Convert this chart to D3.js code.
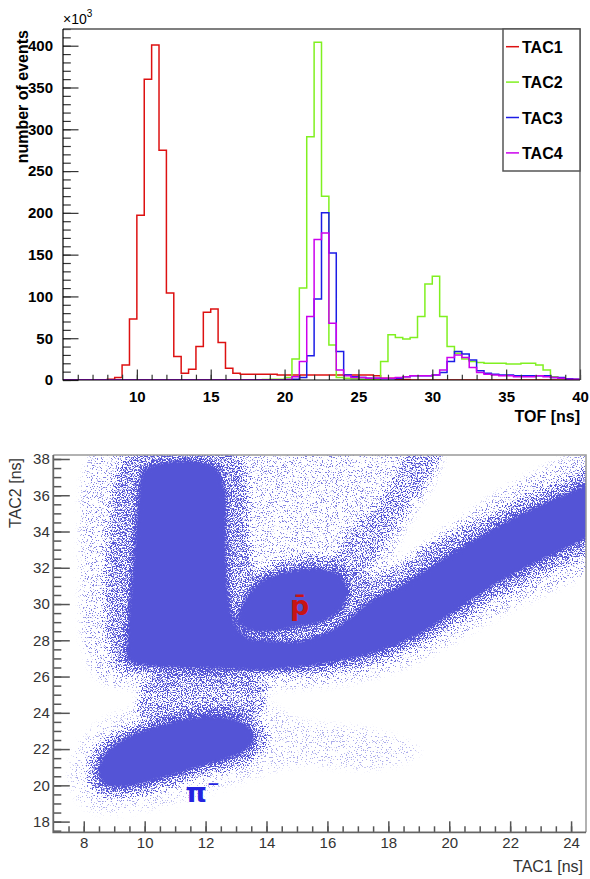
<!DOCTYPE html>
<html>
<head>
<meta charset="utf-8">
<script src="https://cdn.jsdelivr.net/npm/d3@7"></script>
<style>
    body { margin: 0; background: #fff; }
    svg { display: block; }
</style>
</head>
<body>
<svg id="chart" width="590" height="879"></svg>
<script>
// ---- top panel: TOF histograms, 0.5 ns bins from 5 ns, counts in units of 10^3 ----
const tofBinStart = 5;
const tofBinWidth = 0.5;

const tac1Counts = [
    0, 0, 0, 0, 0, 0, 1, 3, 18, 73,
    197, 360, 401, 275, 104, 28, 8, 13, 40, 81,
    85, 45, 14, 8, 7, 7, 7, 7, 7, 6,
    6, 6, 6, 6, 6, 6, 6, 6, 6, 6,
    6, 6, 5, 2, 2, 1, 0.5, 0, 0, 0,
    0, 0, 0, 0, 0, 0, 0, 0, 0, 0,
    0, 0, 0, 0, 0, 0, 0, 0, 0, 0
];
const tac2Counts = [
    0, 0, 0, 0, 0, 0, 0, 0, 0, 0,
    0, 0, 0, 0, 0, 0, 0, 0, 0, 0,
    0, 0, 0, 0, 0, 0, 0, 0.5, 1, 1,
    3, 25, 110, 291, 404, 220, 42, 3, 2, 1.5,
    1, 1, 1, 22, 54, 51, 49, 51, 76, 115,
    124, 76, 40, 32, 25, 22, 21, 20, 20, 20,
    19, 19, 20, 20, 18, 12, 4, 1.5, 1, 0.5
];
const tac3Counts = [
    0, 0, 0, 0, 0, 0, 0, 0, 0, 0,
    0, 0, 0, 0, 0, 0, 0, 0, 0, 0,
    0, 0, 0, 0, 0, 0, 0, 0, 0, 0,
    0.5, 1, 3, 29, 97, 200, 152, 34, 6, 4,
    3, 2, 2, 1.5, 1.5, 2, 4, 5, 5, 5,
    6, 9, 22, 34, 31, 24, 11, 8, 7, 6,
    6, 5, 5, 5, 5, 5, 3, 3, 1.5, 1
];
const tac4Counts = [
    0, 0, 0, 0, 0, 0, 0, 0, 0, 0,
    0, 0, 0, 0, 0, 0, 0, 0, 0, 0,
    0, 0, 0, 0, 0, 0, 0, 0, 0, 0,
    0.5, 4, 22, 76, 168, 176, 68, 12, 5, 3,
    3, 2, 2, 2, 2, 3, 4, 5, 5, 5,
    6, 12, 27, 30, 27, 15, 9, 7, 6, 5,
    5, 4, 4, 4, 5, 4, 3, 2, 1, 1
];

const seriesNames = ['TAC1', 'TAC2', 'TAC3', 'TAC4'];
const seriesColors = ['#dd1111', '#80f020', '#1c1ce6', '#cc00ee'];
const tofDomain = [5, 40];
const countDomain = [0, 420];
const tofTicks = [10, 15, 20, 25, 30, 35, 40];
const countTicks = [0, 50, 100, 150, 200, 250, 300, 350, 400];

// ---- bottom panel: TAC1 vs TAC2 density, outlines in ns, level = relative density ----
const tac1Domain = [7.0, 24.49];
const tac2Domain = [17.41, 38.22];
const tac1Ticks = [8, 10, 12, 14, 16, 18, 20, 22, 24];
const tac2Ticks = [18, 20, 22, 24, 26, 28, 30, 32, 34, 36, 38];

const vBandCore = [[9.94, 37.4], [10.5, 37.83], [11.8, 37.9], [12.4, 37.5], [12.67, 36.3], [12.7, 33.5],
    [12.8, 30.2], [13.05, 28.7], [13.5, 28.0], [13.5, 26.6], [11.8, 26.42], [10.2, 26.53], [9.45, 26.86],
    [9.42, 28.6], [9.6, 32.4], [9.75, 35.7]];
const pbarCore = [[13.03, 29.1], [13.3, 30.4], [13.8, 31.3], [14.55, 31.8], [15.65, 32.0], [16.4, 31.7],
    [16.7, 30.8], [16.5, 29.7], [15.9, 29.0], [15.1, 28.7], [14.0, 28.4], [13.3, 28.6]];
const diagonalCore = [[13.13, 27.91], [15.09, 28.02], [16.41, 28.9], [17.39, 30.22], [18.38, 31.05],
    [19.92, 32.7], [22.08, 34.8], [24.48, 36.62], [24.94, 36.95], [24.94, 33.92], [24.48, 33.53],
    [21.66, 31.16], [19.03, 28.29], [17.72, 27.35], [16.41, 26.8], [15.09, 26.47], [13.13, 26.47]];
const pionCore = [[8.44, 20.85], [8.7, 21.84], [9.35, 22.67], [10.5, 23.38], [11.81, 23.82], [12.96, 23.71],
    [13.52, 23.16], [13.62, 22.39], [13.13, 21.67], [11.81, 20.96], [10.5, 20.29], [9.35, 19.85], [8.63, 20.02]];
const upperHalo = [[8.86, 34.63], [9.12, 37.39], [9.68, 38.39], [12.8, 38.39], [13.29, 37.39], [13.39, 33.53],
    [13.62, 31.88], [14.6, 32.43], [16.08, 32.54], [16.9, 31.77], [17.72, 31.6], [19.69, 33.53], [21.99, 35.46],
    [24.48, 37.39], [24.94, 37.67], [24.94, 32.98], [24.48, 32.7], [21.66, 30.39], [19.03, 27.74], [17.72, 26.8],
    [16.08, 26.2], [13.45, 26.09], [10.17, 26.09], [9.19, 26.36], [8.8, 28.02], [8.73, 31.33]];
const upperSpray = [[7.88, 32.43], [8.04, 37.39], [8.37, 38.39], [19.69, 38.39], [19.69, 37.39], [18.38, 33.53],
    [18.21, 32.43], [20.01, 34.36], [22.31, 36.84], [24.48, 38.5], [24.94, 38.5], [24.94, 31.88], [24.48, 31.6],
    [21.66, 29.39], [19.03, 26.91], [17.72, 26.09], [16.08, 25.53], [13.45, 25.26], [10.17, 25.26],
    [8.53, 25.81], [8.04, 27.46]];
const steepStreak = [[16.08, 31.88], [17.06, 31.6], [18.38, 34.63], [19.69, 38.22], [19.69, 38.6],
    [18.87, 38.6], [17.72, 35.74], [16.41, 33.26]];
const gapBridge = [[9.85, 25.26], [10.5, 26.25], [12.8, 26.25], [13.95, 25.53], [13.78, 23.91], [12.47, 23.74],
    [10.83, 23.52], [9.85, 23.88]];
const pionHalo = [[8.14, 20.74], [8.37, 22.06], [9.19, 23.05], [10.5, 23.82], [11.81, 24.27], [13.13, 24.15],
    [13.85, 23.49], [14.04, 22.39], [13.45, 21.29], [11.81, 20.46], [10.5, 19.74], [9.35, 19.36], [8.37, 19.58]];
const pionSpray = [[7.55, 20.19], [7.88, 22.39], [8.86, 23.77], [10.5, 24.59], [13.78, 24.7], [15.09, 23.6],
    [17.72, 22.94], [19.03, 21.84], [17.72, 20.96], [15.09, 21.12], [13.78, 20.57], [11.81, 19.47],
    [9.85, 18.64], [8.21, 18.64]];

const scatterLayers = [
    {outline: upperSpray, level: 0.19},
    {outline: pionSpray, level: 0.12},
    {outline: upperHalo, level: 0.45},
    {outline: steepStreak, level: 0.35},
    {outline: gapBridge, level: 0.42},
    {outline: pionHalo, level: 0.45},
    {outline: vBandCore, level: 1},
    {outline: pbarCore, level: 1},
    {outline: diagonalCore, level: 1},
    {outline: pionCore, level: 1}
];
const coreOutlines = [vBandCore, pbarCore, diagonalCore, pionCore];
const particleLabels = [
    {text: 'p\u0304', tac1: 15.09, tac2: 29.4, color: '#c81414'},
    {text: '\u03c0', sup: '\u2212', tac1: 11.9, tac2: 19.08, color: '#2424e0'}
];

class TofFigure {
    constructor(svgNode) {
        this.svg = d3.select(svgNode);
        this.magicConstants = {
            HIST_BOX: {left: 63, top: 29, right: 580, bottom: 380},
            SCATTER_BOX: {left: 53.3, top: 455, right: 586, bottom: 832.3},
            HIST_FONT: '"Liberation Sans", Arial, sans-serif',
            SCATTER_FONT: '"Liberation Sans", Arial, sans-serif',
            SCATTER_COLOR: '#5454d6'
        };
    }

    _styleAxis(g, color, width) {
        g.select('.domain').remove();
        g.selectAll('.tick line').attr('stroke', color).attr('stroke-width', width);
    }

    _drawHistogram() {
        const box = this.magicConstants.HIST_BOX;
        const font = this.magicConstants.HIST_FONT;
        const x = d3.scaleLinear().domain(tofDomain).range([box.left, box.right]);
        const y = d3.scaleLinear().domain(countDomain).range([box.bottom, box.top]);
        const g = this.svg.append('g');

        g.append('clipPath').attr('id', 'histClip')
            .append('rect')
            .attr('x', box.left).attr('y', box.top)
            .attr('width', box.right - box.left).attr('height', box.bottom - box.top);

        const line = d3.line()
            .x(d => x(d[0]))
            .y(d => y(d[1]))
            .curve(d3.curveStepAfter);
        const allCounts = [tac1Counts, tac2Counts, tac3Counts, tac4Counts];

        allCounts.forEach((counts, i) => {
            const pts = counts.map((v, k) => [tofBinStart + k * tofBinWidth, v]);
            pts.push([tofBinStart + counts.length * tofBinWidth, counts[counts.length - 1]]);
            g.append('path')
                .attr('clip-path', 'url(#histClip)')
                .attr('d', line(pts))
                .attr('fill', 'none')
                .attr('stroke', seriesColors[i])
                .attr('stroke-width', 1.5);
        });

        // minor + major ticks, pointing inside the frame
        const yMinor = g.append('g').attr('transform', `translate(${box.left},0)`)
            .call(d3.axisLeft(y).tickValues(d3.range(0, 421, 10)).tickSize(-7.8).tickFormat(''));
        this._styleAxis(yMinor, '#333', 1.2);
        const yMajor = g.append('g').attr('transform', `translate(${box.left},0)`)
            .call(d3.axisLeft(y).tickValues(countTicks).tickSize(-15.5).tickPadding(10));
        this._styleAxis(yMajor, '#333', 1.2);

        const xMinor = g.append('g').attr('transform', `translate(0,${box.bottom})`)
            .call(d3.axisBottom(x).tickValues(d3.range(6, 41, 1)).tickSize(-5.3).tickFormat(''));
        this._styleAxis(xMinor, '#333', 1.2);
        const xMajor = g.append('g').attr('transform', `translate(0,${box.bottom})`)
            .call(d3.axisBottom(x).tickValues(tofTicks).tickSize(-10.5).tickPadding(11));
        this._styleAxis(xMajor, '#333', 1.2);

        g.selectAll('.tick text')
            .attr('font-family', font).attr('font-weight', 'bold')
            .attr('font-size', 15).attr('fill', '#000');

        // frame
        g.append('path')
            .attr('d', `M${box.left},${box.top}H${box.right}V${box.bottom}`)
            .attr('fill', 'none').attr('stroke', '#555').attr('stroke-width', 1.3);
        g.append('path')
            .attr('d', `M${box.left},${box.top}V${box.bottom}H${box.right}`)
            .attr('fill', 'none').attr('stroke', '#000').attr('stroke-width', 1.2);

        // titles
        g.append('text')
            .attr('transform', `translate(28,${box.top + 1}) rotate(-90)`)
            .attr('text-anchor', 'end')
            .attr('font-family', font).attr('font-weight', 'bold').attr('font-size', 16)
            .text('number of events');
        g.append('text')
            .attr('x', box.right).attr('y', 422)
            .attr('text-anchor', 'end')
            .attr('font-family', font).attr('font-weight', 'bold').attr('font-size', 16)
            .text('TOF [ns]');
        const exp = g.append('text')
            .attr('x', box.left).attr('y', 24)
            .attr('font-family', font).attr('font-size', 14)
            .text('\u00d710');
        exp.append('tspan').attr('dy', -7).attr('font-size', 10).text('3');

        // legend
        const lg = g.append('g');
        lg.append('rect')
            .attr('x', 503).attr('y', box.top)
            .attr('width', box.right - 503).attr('height', 142)
            .attr('fill', '#fff').attr('stroke', '#555').attr('stroke-width', 1.5);
        seriesNames.forEach((name, i) => {
            const cy = 46.7 + i * 35.4;
            lg.append('line')
                .attr('x1', 506).attr('x2', 519).attr('y1', cy).attr('y2', cy)
                .attr('stroke', seriesColors[i]).attr('stroke-width', 1.5);
            lg.append('text')
                .attr('x', 522).attr('y', cy + 6)
                .attr('font-family', font).attr('font-weight', 'bold').attr('font-size', 16)
                .text(name);
        });
    }

    _addScatterFilters(box) {
        const defs = this.svg.append('defs');
        // dithered spray: blurred density thresholded against a fine noise grain
        const f = defs.append('filter').attr('id', 'speckle')
            .attr('filterUnits', 'userSpaceOnUse')
            .attr('x', box.left).attr('y', box.top)
            .attr('width', box.right - box.left).attr('height', box.bottom - box.top)
            .attr('color-interpolation-filters', 'sRGB');
        f.append('feGaussianBlur').attr('in', 'SourceAlpha').attr('stdDeviation', 3).attr('result', 'dens');
        f.append('feTurbulence').attr('type', 'fractalNoise').attr('baseFrequency', 0.8)
            .attr('numOctaves', 2).attr('seed', 7).attr('result', 'noise');
        f.append('feColorMatrix').attr('in', 'noise').attr('type', 'matrix')
            .attr('values', '0 0 0 0 0  0 0 0 0 0  0 0 0 0 0  3 0 0 0 -1').attr('result', 'grain');
        f.append('feComposite').attr('in', 'dens').attr('in2', 'grain').attr('operator', 'arithmetic')
            .attr('k1', 0).attr('k2', 4).attr('k3', -3.6).attr('k4', 0).attr('result', 'mask');
        f.append('feFlood').attr('flood-color', this.magicConstants.SCATTER_COLOR).attr('result', 'ink');
        f.append('feComposite').attr('in', 'ink').attr('in2', 'mask').attr('operator', 'in');

        // solid cores, slightly eroded so the speckled fringe shows around them
        const c = defs.append('filter').attr('id', 'soften')
            .attr('color-interpolation-filters', 'sRGB');
        c.append('feGaussianBlur').attr('in', 'SourceGraphic').attr('stdDeviation', 3);
        const ct = c.append('feComponentTransfer');
        ct.append('feFuncA').attr('type', 'linear').attr('slope', 2.5).attr('intercept', -1.2);
    }

    _drawScatter() {
        const box = this.magicConstants.SCATTER_BOX;
        const font = this.magicConstants.SCATTER_FONT;
        const x = d3.scaleLinear().domain(tac1Domain).range([box.left, box.right]);
        const y = d3.scaleLinear().domain(tac2Domain).range([box.bottom, box.top]);
        const g = this.svg.append('g');

        this._addScatterFilters(box);
        g.append('clipPath').attr('id', 'scatterClip')
            .append('rect')
            .attr('x', box.left).attr('y', box.top)
            .attr('width', box.right - box.left).attr('height', box.bottom - box.top);

        const outline = d3.line()
            .x(d => x(d[0]))
            .y(d => y(d[1]))
            .curve(d3.curveCatmullRomClosed.alpha(0.5));

        const clipped = g.append('g').attr('clip-path', 'url(#scatterClip)');
        clipped.append('g').attr('filter', 'url(#speckle)')
            .selectAll('path')
            .data(scatterLayers)
            .join('path')
            .attr('d', d => outline(d.outline))
            .attr('fill', '#000')
            .attr('fill-opacity', d => d.level);
        clipped.append('g').attr('filter', 'url(#soften)')
            .selectAll('path')
            .data(coreOutlines)
            .join('path')
            .attr('d', d => outline(d))
            .attr('fill', this.magicConstants.SCATTER_COLOR);

        // particle labels
        particleLabels.forEach(lab => {
            const t = g.append('text')
                .attr('x', x(lab.tac1)).attr('y', y(lab.tac2))
                .attr('text-anchor', 'middle')
                .attr('font-family', '"DejaVu Sans", sans-serif').attr('font-weight', 'bold')
                .attr('font-size', 27).attr('fill', lab.color)
                .text(lab.text);
            if (lab.sup) {
                t.append('tspan').attr('dy', -13).attr('font-size', 15).text(lab.sup);
            }
        });

        // ticks
        const axisColor = '#555';
        const yMinor = g.append('g').attr('transform', `translate(${box.left},0)`)
            .call(d3.axisLeft(y).tickValues(d3.range(17.5, 38.1, 0.5)).tickSize(-8).tickFormat(''));
        this._styleAxis(yMinor, axisColor, 1.5);
        const yMajor = g.append('g').attr('transform', `translate(${box.left},0)`)
            .call(d3.axisLeft(y).tickValues(tac2Ticks).tickSize(-16.5).tickPadding(3.5));
        this._styleAxis(yMajor, axisColor, 1.5);
        const xMinor = g.append('g').attr('transform', `translate(0,${box.bottom})`)
            .call(d3.axisBottom(x).tickValues(d3.range(7.5, 24.5, 0.5)).tickSize(-6).tickFormat(''));
        this._styleAxis(xMinor, axisColor, 1.5);
        const xMajor = g.append('g').attr('transform', `translate(0,${box.bottom})`)
            .call(d3.axisBottom(x).tickValues(tac1Ticks).tickSize(-11).tickPadding(5));
        this._styleAxis(xMajor, axisColor, 1.5);

        g.selectAll('.tick text')
            .attr('font-family', font).attr('font-size', 15).attr('fill', '#333');

        g.append('path')
            .attr('d', `M${box.left},${box.top}H${box.right}V${box.bottom}`)
            .attr('fill', 'none').attr('stroke', '#999').attr('stroke-width', 1.5);
        g.append('path')
            .attr('d', `M${box.left},${box.top}V${box.bottom}H${box.right}`)
            .attr('fill', 'none').attr('stroke', '#666').attr('stroke-width', 1.8);

        g.append('text')
            .attr('transform', `translate(21,${box.top + 3}) rotate(-90)`)
            .attr('text-anchor', 'end')
            .attr('font-family', font).attr('font-size', 16).attr('fill', '#333')
            .text('TAC2 [ns]');
        g.append('text')
            .attr('x', 583).attr('y', 872)
            .attr('text-anchor', 'end')
            .attr('font-family', font).attr('font-size', 16).attr('fill', '#333')
            .text('TAC1 [ns]');
    }

    init() {
        this._drawHistogram();
        this._drawScatter();
    }
}

new TofFigure(document.getElementById('chart')).init();
</script>
</body>
</html>
